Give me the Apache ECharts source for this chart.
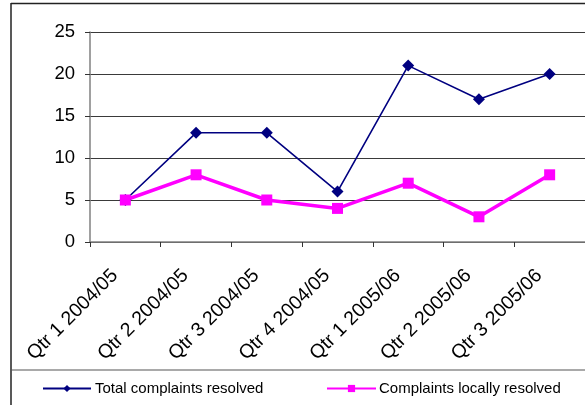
<!DOCTYPE html>
<html><head><meta charset="utf-8">
<script src="https://cdn.jsdelivr.net/npm/echarts@6/dist/echarts.min.js"></script>
<style>html,body{margin:0;padding:0;background:#fff}#c{width:585px;height:405px}</style>
</head><body><div id="c"></div>
<script>
var categories = ['Qtr 1 2004/05','Qtr 2 2004/05','Qtr 3 2004/05','Qtr 4 2004/05','Qtr 1 2005/06','Qtr 2 2005/06','Qtr 3 2005/06'];
var totalResolved = [5, 13, 13, 6, 21, 17, 20];
var locallyResolved = [5, 8, 5, 4, 7, 3, 8];
var seriesNames = ['Total complaints resolved', 'Complaints locally resolved'];

var chart = echarts.init(document.getElementById('c'), null, {renderer: 'canvas'});
var font = 'Liberation Sans, Arial, sans-serif';
chart.setOption({
  animation: false,
  backgroundColor: '#fff',
  textStyle: {fontFamily: font},
  grid: {left: 90, top: 32, width: 500, height: 210, containLabel: false},
  xAxis: {
    type: 'category', data: categories, boundaryGap: true,
    axisLine: {lineStyle: {color: '#808080', width: 1.5}},
    axisTick: {show: true, length: 5, lineStyle: {color: '#333'}, interval: 0},
    axisLabel: {rotate: 45, fontSize: 19.5, color: '#000', margin: 20, interval: 0, fontFamily: font,
                padding: [0, 15, 0, 0]},
    splitLine: {show: false}
  },
  yAxis: {
    type: 'value', min: 0, max: 25, interval: 5,
    axisLine: {show: true, lineStyle: {color: '#808080', width: 1.5}},
    axisTick: {show: true, length: 5, lineStyle: {color: '#333'}},
    axisLabel: {fontSize: 18.5, color: '#000', margin: 15, fontFamily: font},
    splitLine: {show: true, lineStyle: {color: '#3a3a3a', width: 1.2}}
  },
  legend: [
    {data: [seriesNames[0]], left: 42, top: 381, padding: 0, itemWidth: 48, itemHeight: 9, itemGap: 4,
     textStyle: {fontSize: 15, color: '#000', fontFamily: font, padding: [0,0,0,-1]}},
    {data: [seriesNames[1]], left: 326, top: 381, padding: 0, itemWidth: 49, itemHeight: 9, itemGap: 4,
     textStyle: {fontSize: 15, color: '#000', fontFamily: font, padding: [0,0,0,-2]}}
  ],
  graphic: [
    {type: 'line', shape: {x1: 11, y1: 3, x2: 11, y2: 405}, style: {stroke: '#222', lineWidth: 1.5}},
    {type: 'line', shape: {x1: 11, y1: 3.5, x2: 585, y2: 3.5}, style: {stroke: '#222', lineWidth: 1.5}},
    {type: 'line', shape: {x1: 11, y1: 370, x2: 585, y2: 370}, style: {stroke: '#555', lineWidth: 1.2}}
  ],
  series: [
    {name: seriesNames[0], type: 'line', data: totalResolved,
     symbol: 'diamond', symbolSize: 12, color: '#000080',
     lineStyle: {color: '#000080', width: 1.6}, itemStyle: {color: '#000080'}},
    {name: seriesNames[1], type: 'line', data: locallyResolved,
     symbol: 'rect', symbolSize: 11, color: '#FF00FF',
     lineStyle: {color: '#FF00FF', width: 3.5}, itemStyle: {color: '#FF00FF'}}
  ]
});
</script></body></html>
